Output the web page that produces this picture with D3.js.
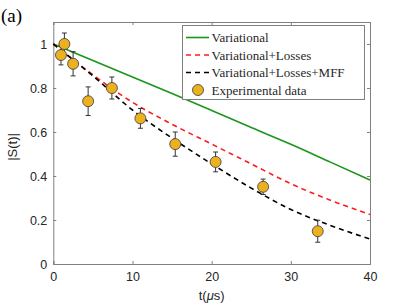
<!DOCTYPE html>
<html><head><meta charset="utf-8">
<script src="https://cdn.jsdelivr.net/npm/d3@7"></script>
<style>body{margin:0;background:#fff}svg{display:block}</style>
</head><body><svg id="c" width="409" height="307"></svg>
<script>
// ---- data ----
const curveT = [0, 5, 10, 15, 20, 25, 30, 35, 40];
const variational = [1.0, 0.925, 0.85, 0.775, 0.698, 0.62, 0.544, 0.463, 0.382];
const varLosses = [1.0, 0.86, 0.735, 0.635, 0.545, 0.455, 0.365, 0.29, 0.225];
const varLossesMFF = [1.0, 0.855, 0.70, 0.572, 0.455, 0.345, 0.248, 0.175, 0.114];
const expT = [0.97, 1.4, 2.5, 4.4, 7.4, 11.0, 15.4, 20.5, 26.5, 33.4];
const expS = [0.95, 1.0, 0.91, 0.74, 0.80, 0.662, 0.545, 0.464, 0.351, 0.149];
const expErr = [0.045, 0.05, 0.055, 0.065, 0.05, 0.045, 0.055, 0.045, 0.035, 0.05];
const xTicks = [0, 10, 20, 30, 40];
const yTicks = [0, 0.2, 0.4, 0.6, 0.8, 1];
const legendLabels = ["Variational", "Variational+Losses", "Variational+Losses+MFF", "Experimental data"];

const svg = d3.select("#c");
const L = 53.3, R = 370, T = 22, B = 264;
const x = d3.scaleLinear().domain([0, 40]).range([L, R]);
const y = d3.scaleLinear().domain([0, 1.1]).range([B, T]);
const axisCol = "#808080", textCol = "#262626";
const sans = "'Liberation Sans', Arial, sans-serif";
const serif = "'Liberation Serif', 'Times New Roman', serif";

// axes
const gx = svg.append("g").attr("transform", `translate(0,${B})`)
  .call(d3.axisBottom(x).tickValues(xTicks).tickSize(-3).tickPadding(8).tickFormat(d3.format("d")));
const gxt = svg.append("g").attr("transform", `translate(0,${T})`)
  .call(d3.axisTop(x).tickValues(xTicks).tickSize(-3).tickFormat(""));
const gy = svg.append("g").attr("transform", `translate(${L},0)`)
  .call(d3.axisLeft(y).tickValues(yTicks).tickSize(-3).tickPadding(6).tickFormat(d => d === 0 || d === 1 ? d3.format("d")(d) : d3.format(".1f")(d)));
const gyr = svg.append("g").attr("transform", `translate(${R},0)`)
  .call(d3.axisRight(y).tickValues(yTicks).tickSize(-3).tickFormat(""));
[gx, gxt, gy, gyr].forEach(g => {
  g.select(".domain").attr("stroke", axisCol).attr("stroke-width", 1);
  g.selectAll(".tick line").attr("stroke", axisCol);
  g.selectAll(".tick text").attr("fill", textCol).style("font-family", sans).style("font-size", "12.5px");
});

// curves
const line = d3.line().x(d => x(d[0])).y(d => y(d[1])).curve(d3.curveMonotoneX);
const series = [
  {v: variational, color: "#1b951b", dash: null},
  {v: varLosses, color: "#ff1a1a", dash: "5,4"},
  {v: varLossesMFF, color: "#000000", dash: "5,4"}
];
series.forEach(s => {
  svg.append("path").datum(curveT.map((t, i) => [t, s.v[i]]))
    .attr("d", line).attr("fill", "none").attr("stroke", s.color)
    .attr("stroke-width", 1.6).attr("stroke-dasharray", s.dash);
});

// experimental data with error bars
const pts = expT.map((t, i) => ({t, s: expS[i], e: expErr[i]}));
const eg = svg.append("g");
pts.forEach(p => {
  eg.append("line").attr("x1", x(p.t)).attr("x2", x(p.t)).attr("y1", y(p.s - p.e)).attr("y2", y(p.s + p.e))
    .attr("stroke", "#333").attr("stroke-width", 1);
  [p.s - p.e, p.s + p.e].forEach(v => eg.append("line")
    .attr("x1", x(p.t) - 2.5).attr("x2", x(p.t) + 2.5).attr("y1", y(v)).attr("y2", y(v))
    .attr("stroke", "#333").attr("stroke-width", 1));
});
eg.selectAll("circle").data(pts).join("circle")
  .attr("cx", d => x(d.t)).attr("cy", d => y(d.s)).attr("r", 5.5)
  .attr("fill", "#EDB120").attr("stroke", "#3a3a3a").attr("stroke-width", 0.8);

// legend
const lg = svg.append("g");
lg.append("rect").attr("x", 182.5).attr("y", 25.5).attr("width", 182).attr("height", 74)
  .attr("fill", "#fff").attr("stroke", axisCol).attr("stroke-width", 1);
const rowY = [37.5, 55, 72.5, 90];
legendLabels.forEach((lab, i) => {
  const yy = rowY[i];
  if (i < 3) {
    lg.append("line").attr("x1", 186).attr("x2", 209).attr("y1", yy).attr("y2", yy)
      .attr("stroke", series[i].color).attr("stroke-width", 1.6)
      .attr("stroke-dasharray", series[i].dash);
  } else {
    lg.append("circle").attr("cx", 198).attr("cy", yy).attr("r", 5.5)
      .attr("fill", "#EDB120").attr("stroke", "#3a3a3a").attr("stroke-width", 0.8);
  }
  lg.append("text").attr("x", 211.5).attr("y", yy).attr("dy", "0.35em")
    .attr("fill", textCol).style("font-family", serif).style("font-size", "13px").text(lab);
});

// axis labels
svg.append("text").attr("transform", `translate(17,${(T + B) / 2 + 4}) rotate(-90)`)
  .attr("text-anchor", "middle").attr("fill", textCol)
  .style("font-family", sans).style("font-size", "13px").text("|S(t)|");
const xl = svg.append("text").attr("x", (L + R) / 2).attr("y", 300).attr("text-anchor", "middle")
  .attr("fill", textCol).style("font-family", sans).style("font-size", "13px");
xl.append("tspan").text("t(");
xl.append("tspan").style("font-style", "italic").text("μ");
xl.append("tspan").text("s)");

// panel label
svg.append("text").attr("x", 1).attr("y", 22).attr("fill", "#000")
  .style("font-family", serif).style("font-size", "19px").text("(a)");
</script></body></html>
